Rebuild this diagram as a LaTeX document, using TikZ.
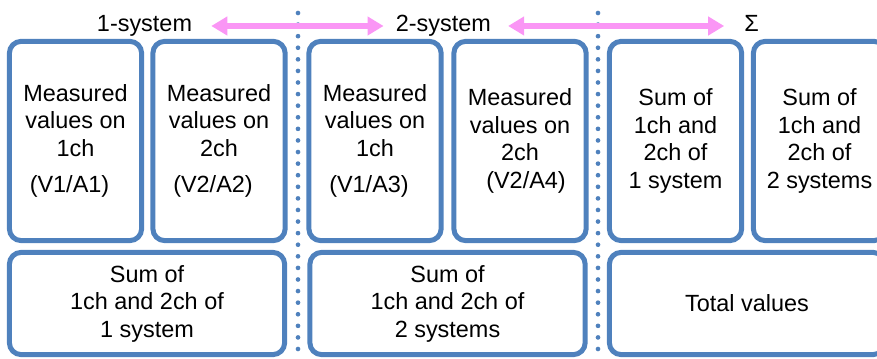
\documentclass[tikz,border=0pt]{standalone}
\usepackage{fontspec}
\setmainfont{Liberation Sans}
\usetikzlibrary{arrows.meta,positioning}
\definecolor{cblue}{RGB}{79,129,189}
\definecolor{cpink}{RGB}{250,150,245}
\tikzset{
  cbox/.style={rectangle,rounded corners=0.36cm,draw=cblue,line width=0.15cm,
    minimum width=3.97cm,minimum height=5.98cm,align=center,inner sep=0pt,
    font=\fontsize{20}{23.5}\selectfont},
  wbox/.style={cbox,minimum width=8.26cm,minimum height=3.07cm},
  hdr/.style={inner sep=0pt,font=\fontsize{20}{23.5}\selectfont},
  arr/.style={{Triangle[length=0.48cm,width=0.54cm]}-{Triangle[length=0.48cm,width=0.54cm]},
    line width=0.19cm,cpink},
  sep/.style={cblue,line width=0.14cm,line cap=round,dash pattern=on 0pt off 0.3476cm}
}

\begin{document}
\begin{tikzpicture}
\useasboundingbox (0,0) rectangle (26.31,10.74);
\clip (0,0) rectangle (26.31,10.74);
% ---------- top row ----------
\node[cbox] (m1) at (2.265,6.51) {Measured\\values on\\1ch\\[0.27cm](V1/A1)\hspace*{0.36cm}};
\node[cbox] (m2) at (6.57,6.51) {Measured\\values on\\2ch\\[0.27cm](V2/A2)\hspace*{0.36cm}};
\node[cbox] (m3) at (11.25,6.51) {Measured\\values on\\1ch\\[0.27cm](V1/A3)\hspace*{0.36cm}};
\node[cbox] (m4) at (15.6,6.51) {Measured\\values on\\2ch\\\hspace*{0.36cm}(V2/A4)};
\node[cbox] (s1) at (20.265,6.51) {Sum of\\1ch and\\2ch of\\1 system};
\node[cbox] (s2) at (24.585,6.51) {Sum of\\1ch and\\2ch of\\2 systems};
% ---------- bottom row ----------
\node[wbox] (t1) at (4.41,1.635) {Sum of\\1ch and 2ch of\\1 system};
\node[wbox] (t2) at (13.425,1.635) {Sum of\\1ch and 2ch of\\2 systems};
\node[wbox] (tot) at (22.41,1.635) {Total values};
% ---------- separators ----------
\draw[sep] (8.94,10.35) -- (8.94,0.2);
\draw[sep] (17.94,10.35) -- (17.94,0.2);
% ---------- header ----------
\node[hdr] (sys1) at (4.335,9.96) {1-system};
\node[hdr] (sys2) at (13.3,9.96) {2-system};
\node[hdr] (sigma) at (22.55,10.05) {Σ};
\draw[arr,shorten <=0.57cm,shorten >=0.36cm] (sys1.east) -- (sys2.west);
\draw[arr,shorten <=0.51cm,shorten >=0.6cm] (sys2.east) -- (sys2.east -| sigma.west);
\end{tikzpicture}
\end{document}
